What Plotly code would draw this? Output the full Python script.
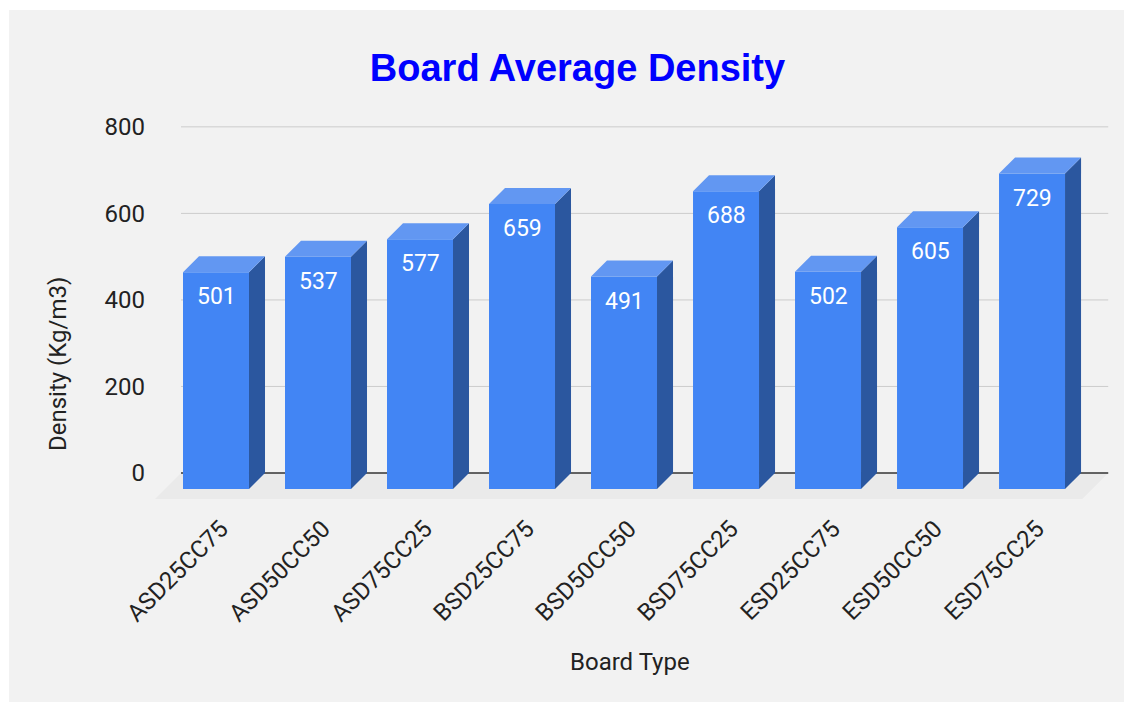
import plotly.graph_objects as go

boards = ["ASD25CC75", "ASD50CC50", "ASD75CC25", "BSD25CC75", "BSD50CC50",
          "BSD75CC25", "ESD25CC75", "ESD50CC50", "ESD75CC25"]
density = [501, 537, 577, 659, 491, 688, 502, 605, 729]
y_ticks = [0, 200, 400, 600, 800]

# page body adds an 8px margin, so the figure is offset inside the window
OFF = 8
W, H = 1124, 694
L, R, T, B = 142, 20, 102, 197
PW, PH = W - L - R, H - T - B

x_range = [-0.647, 8.784]
y_range = [-74, 839]
bar_w = 0.647
dx = 0.157      # fake depth, x units
dz = 37         # fake depth, y units

FRONT = "#4285f4"
SIDE = "#2b579f"
TOP = "#6297f2"
FONT = "Roboto"
TXT = "#222222"


def px_x(px):
    # window pixel -> paper fraction
    return (px - OFF - L) / PW


def px_y(py):
    return (H - B - (py - OFF)) / PH


def poly(pts):
    return "M " + " L ".join(f"{x},{y}" for x, y in pts) + " Z"


fig = go.Figure()

fig.add_trace(go.Bar(
    x=list(range(len(boards))), y=density, base=-dz, width=bar_w,
    marker=dict(color=FRONT, line=dict(width=0)),
    hovertemplate="%{customdata}: %{text}<extra></extra>",
    customdata=boards, text=density, textposition="none",
))

shapes = []
# grey card behind the chart
shapes.append(dict(type="rect", xref="paper", yref="paper", layer="below",
                   x0=px_x(9), x1=px_x(1140), y0=px_y(710), y1=px_y(10),
                   fillcolor="#f2f2f2", line=dict(width=0)))

gx0 = -0.5 + dx
gx1 = len(boards) - 1 + 0.59 + dx
fdx, fdz = 0.255, 60
shapes.append(dict(type="path", xref="x", yref="y", layer="below",
                   path=poly([(gx0, 0), (gx1, 0), (gx1 - fdx, -fdz), (gx0 - fdx, -fdz)]),
                   fillcolor="#eaeaea", line=dict(width=0)))
for t in y_ticks[1:]:
    shapes.append(dict(type="line", xref="x", yref="y", layer="below",
                       x0=gx0, x1=gx1, y0=t, y1=t, line=dict(color="#cccccc", width=1)))
shapes.append(dict(type="line", xref="x", yref="y", layer="below",
                   x0=gx0, x1=gx1, y0=0, y1=0, line=dict(color="#333333", width=1.5)))

annotations = []
for i, v in enumerate(density):
    xl, xr = i - bar_w / 2, i + bar_w / 2
    shapes.append(dict(type="path", xref="x", yref="y", layer="above",
                       path=poly([(xr, -dz), (xr + dx, 0), (xr + dx, v), (xr, v - dz)]),
                       fillcolor=SIDE, line=dict(width=0)))
    shapes.append(dict(type="path", xref="x", yref="y", layer="above",
                       path=poly([(xl, v - dz), (xl + dx, v), (xr + dx, v), (xr, v - dz)]),
                       fillcolor=TOP, line=dict(width=0)))
    annotations.append(dict(x=i, y=v - dz, xref="x", yref="y", text=str(v),
                            showarrow=False, yanchor="top", yshift=-9,
                            font=dict(family=FONT, size=23, color="white")))

annotations.append(dict(x=px_x(58), y=px_y(364), xref="paper", yref="paper",
                        xanchor="center", yanchor="middle",
                        text="Density (Kg/m3)", textangle=-90, showarrow=False,
                        font=dict(family=FONT, size=24, color=TXT)))
annotations.append(dict(x=px_x(630), y=px_y(662), xref="paper", yref="paper",
                        xanchor="center", yanchor="middle",
                        text="Board Type", showarrow=False,
                        font=dict(family=FONT, size=24, color=TXT)))

fig.update_layout(
    width=W, height=H,
    margin=dict(l=L, r=R, t=T, b=B),
    paper_bgcolor="white",
    plot_bgcolor="rgba(0,0,0,0)",
    showlegend=False,
    title=dict(text="<b>Board Average Density</b>", xref="container", yref="container",
               x=(577.5 - OFF) / W, y=1 - (68 - OFF) / H, xanchor="center", yanchor="middle",
               font=dict(family="Liberation Sans", size=38, color="#0000ff")),
    xaxis=dict(range=x_range, tickvals=[i + 0.05 for i in range(len(boards))],
               ticktext=boards, tickangle=-45, showgrid=False, zeroline=False,
               showline=False, ticks="", ticklabelstandoff=4,
               tickfont=dict(family=FONT, size=24, color=TXT)),
    yaxis=dict(range=y_range, tickvals=y_ticks, showgrid=False, zeroline=False,
               showline=False, ticks="", ticklabelstandoff=4,
               tickfont=dict(family=FONT, size=24, color=TXT)),
    shapes=shapes,
    annotations=annotations,
)

fig.write_html("out.html")
